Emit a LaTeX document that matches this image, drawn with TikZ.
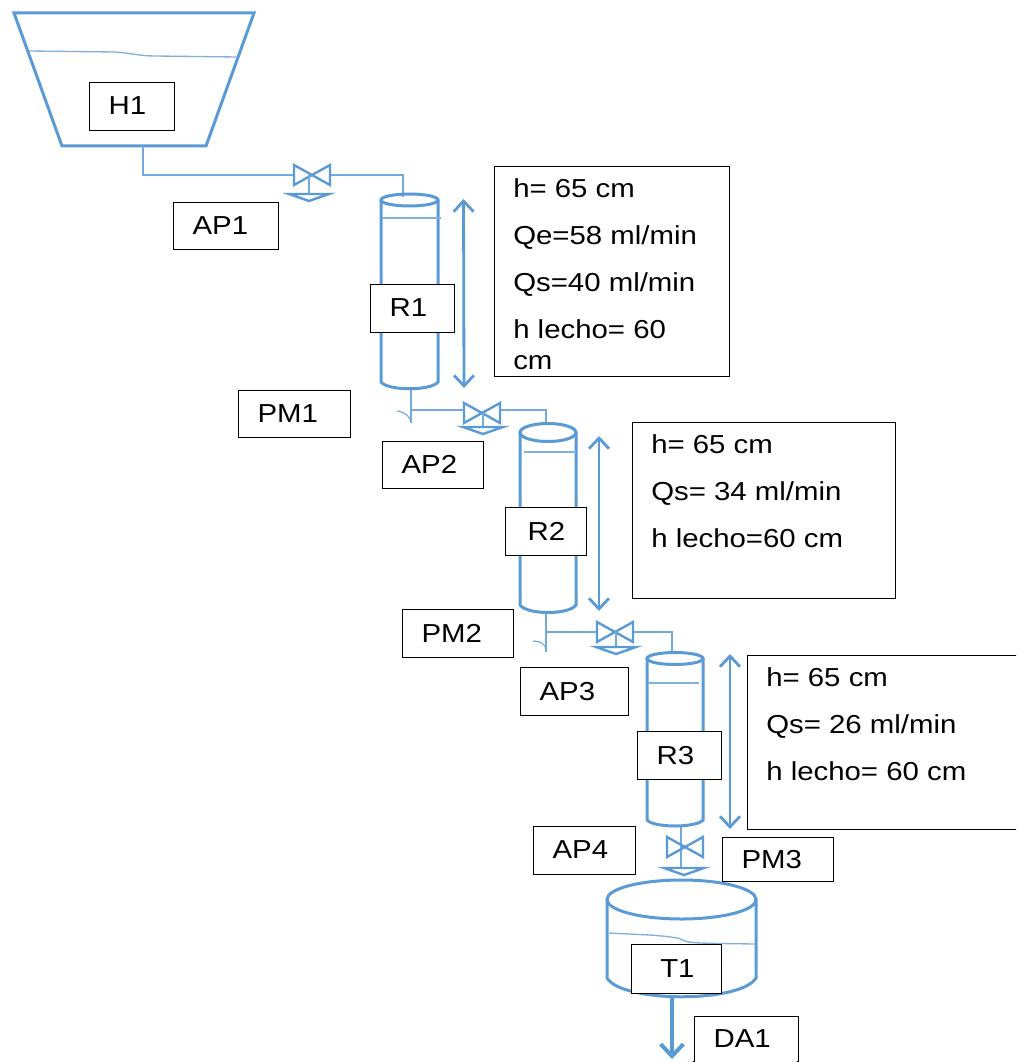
\documentclass[tikz,border=0pt]{standalone}
\usepackage{fontspec}
\setmainfont[FakeStretch=1.13]{Liberation Sans}
\usetikzlibrary{arrows.meta}
\definecolor{pipeblue}{HTML}{5B9BD5}
\definecolor{waterblue}{HTML}{7FB0DE}
\newcommand{\lblfont}{\fontsize{19.5}{22}\selectfont}
\newcommand{\infofont}{\fontsize{19.5}{35.25}\selectfont}
\newcommand{\lblnode}[7][14.25pt]{%
  \pgfmathsetlengthmacro{\boxw}{(#5-#3)*0.75pt}%
  \pgfmathsetlengthmacro{\boxh}{(#6-#4)*0.75pt}%
  \node[lblbox,minimum width=\boxw,minimum height=\boxh] (#2) at (#3,#4)
    {\makebox[\boxw][l]{\hspace{#1}\raisebox{1pt}{#7}}};}
\newcommand{\infonode}[6]{%
  \pgfmathsetlengthmacro{\boxw}{(#4-#2)*0.75pt}%
  \pgfmathsetlengthmacro{\boxh}{(#5-#3)*0.75pt}%
  \node[lblbox,minimum width=\boxw,minimum height=\boxh] (#1) at (#2,#3)
    {\parbox[c][\boxh][t]{\boxw}{\infofont\raggedright\leftskip=14pt\rightskip=0pt plus 1fil
      \rule{0pt}{23.3pt}#6}};}
\tikzset{
  vessel/.style={draw=pipeblue,line width=2.25pt,line join=miter},
  water/.style={draw=waterblue,line width=1pt},
  pipe/.style={draw=pipeblue!85!white,line width=0.9pt},
  height arrow/.style={draw=pipeblue,line width=2.1pt,
    {Straight Barb[length=8pt,width=15pt]}-{Straight Barb[length=8pt,width=15pt]}},
  outlet/.style={draw=pipeblue,line width=3pt,-{Straight Barb[length=9pt,width=17pt]}},
  lblbox/.style={draw=black,fill=white,line width=0.9pt,anchor=north west,inner sep=0pt,
    text=black,font=\lblfont},
  pics/valve/.style={code={
    \draw[draw=pipeblue,line width=1.8pt,line join=miter]
      (-18,-10) -- (18,10) -- (18,-10) -- (-18,10) -- cycle;}},
  pics/actuator/.style={code={
    \draw[pipe] (0,-#1) -- (0,0);
    \draw[draw=pipeblue,line width=1.8pt,line join=miter] (-20,0) -- (20,0) -- (0,7) -- cycle;}},
}
\begin{document}
\begin{tikzpicture}[x=0.75pt,y=-0.75pt]
\useasboundingbox (0,0) rectangle (1016,1062);
\clip (0,0) rectangle (1016,1062);

% named connection points
\coordinate (hopperOut) at (143,146);
\coordinate (v1) at (312,175);
\coordinate (v1l) at (294,175);
\coordinate (v1r) at (330,175);
\coordinate (r1in) at (403,197);
\coordinate (r1out) at (411,389);
\coordinate (r1end) at (411,423);
\coordinate (r1tee) at (411,410);
\coordinate (v2) at (482,413);
\coordinate (v2l) at (464,410);
\coordinate (v2r) at (501,410);
\coordinate (r2in) at (546,423);
\coordinate (r2out) at (546,613);
\coordinate (r2end) at (546,652);
\coordinate (r2tee) at (546,632);
\coordinate (v3) at (615,632);
\coordinate (v3l) at (597,632);
\coordinate (v3r) at (633,632);
\coordinate (r3in) at (672,653);
\coordinate (r3out) at (681,826);
\coordinate (r3end) at (681,868);
\coordinate (v4) at (685,847);
\coordinate (t1out) at (672,997);
\coordinate (t1end) at (672,1059);

% hopper H1
\draw[vessel] (14,13) -- (254,13) -- (206,146) -- (62,146) -- cycle;
\draw[water] (29,51) -- (115,52) .. controls (130,53) and (140,56) .. (155,56) -- (237,57);

% pipes
\draw[pipe] (hopperOut) |- (v1l);
\draw[pipe] (v1r) -| (r1in);
\draw[pipe] (r1out) -- (r1end);
\draw[pipe] (r1tee) -- (v2l);
\draw[pipe] (v2r) -| (r2in);
\draw[pipe] (397,411) .. controls (404,412) and (410,415) .. (r1end);
\draw[pipe] (r2out) -- (r2end);
\draw[pipe] (r2tee) -- (v3l);
\draw[pipe] (v3r) -| (r3in);
\draw[pipe] (533,641) .. controls (540,641) and (546,644) .. (546,650);
\draw[pipe] (r3out) -- (r3end);

% valves
\pic at (v1) {valve};
\pic at (309,194) {actuator=19};
\pic at (v2) {valve};
\pic at (483,427) {actuator=14};
\pic at (v3) {valve};
\pic at (616,647) {actuator=15};
\pic at (v4) {valve};
\pic at (684,868) {actuator=0};

% reactor R1
\draw[vessel] (381,200) -- (381,382) .. controls (388,391) and (431,391) .. (438,382) -- (438,200);
\draw[vessel] (409.5,200) ellipse [x radius=28.5,y radius=6];
\draw[water] (382,218) -- (441,218);
\draw[height arrow] (463.5,199) -- (464,388);

% reactor R2
\draw[vessel] (520,432) -- (520,605) .. controls (527,615) and (569,615) .. (576,605) -- (576,432);
\draw[vessel] (548,432.5) ellipse [x radius=28,y radius=9];
\draw[water] (524,452) -- (576,452);
\draw[height arrow] (599,436) -- (599,611);

% reactor R3
\draw[vessel] (647,658) -- (647,820) .. controls (654,828) and (696,828) .. (703,820) -- (703,658);
\draw[vessel] (675,658.5) ellipse [x radius=28,y radius=6];
\draw[water] (648,683) -- (699,683);
\draw[height arrow] (730,654) -- (730,829);

% tank T1
\draw[vessel] (607,899) -- (607,978) .. controls (622,1003) and (741,1003) .. (756,978) -- (756,899);
\draw[vessel] (681.5,899.5) ellipse [x radius=74.5,y radius=19.5];
\draw[water] (609,933) -- (650,935) .. controls (675,937) and (680,938) .. (685,941) .. controls (690,943) and (700,943) .. (720,943.5) -- (755,944);
\draw[outlet] (t1out) -- (t1end);

% labels
\lblnode{H1}{89}{82}{174}{130}{H1}
\lblnode{AP1}{173}{202}{278}{249}{AP1}
\lblnode{R1}{370}{284}{454}{332}{R1}
\lblnode{PM1}{238}{390}{350}{437}{PM1}
\lblnode{AP2}{382}{441}{483}{488}{AP2}
\lblnode[16.5pt]{R2}{505}{507}{586}{555}{R2}
\lblnode{PM2}{402}{609}{513}{657}{PM2}
\lblnode{AP3}{520}{667}{628}{715}{AP3}
\lblnode{R3}{637}{731}{721}{779}{R3}
\lblnode{AP4}{533}{826}{635}{874}{AP4}
\lblnode{PM3}{722}{837}{833}{881}{PM3}
\lblnode[21.5pt]{T1}{631}{944}{721}{993}{T1}
\lblnode{DA1}{694}{1016}{798}{1062}{DA1}
\fill[white] (690,1061) rectangle (800,1064);
\draw[draw=black,line width=0.9pt] (694,1061) -- (694,1062) (798,1061) -- (798,1062);

% data boxes
\infonode{info1}{494}{166}{729}{376}{h= 65 cm\\Qe=58 ml/min\\Qs=40 ml/min\\h lecho= 60\\[-12pt]cm}
\infonode{info2}{632}{422}{895}{598}{h= 65 cm\\Qs= 34 ml/min\\h lecho=60 cm}
\infonode{info3}{747}{655}{1030}{829}{h= 65 cm\\Qs= 26 ml/min\\h lecho= 60 cm}
\end{tikzpicture}
\end{document}
